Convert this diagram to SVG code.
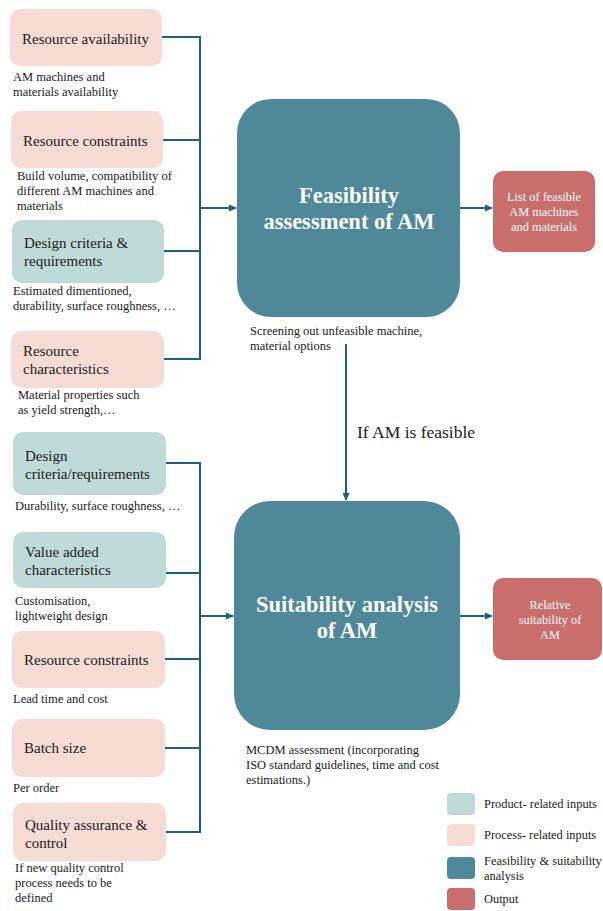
<svg xmlns="http://www.w3.org/2000/svg" width="603" height="911" viewBox="0 0 603 911" font-family="Liberation Serif, serif">
  <style>
    .product { fill: #BFDAD8; }
    .process { fill: #F7DCD6; }
    .analysis { fill: #4F8899; }
    .output { fill: #C96E6C; }
    .lbl { font-size: 15px; fill: #1a1a1a; }
    .cap { font-size: 12.5px; fill: #1a1a1a; }
    .big { font-size: 22.5px; font-weight: bold; fill: #ffffff; text-anchor: middle; }
    .out { font-size: 12.3px; fill: #ffffff; text-anchor: middle; }
    .leg { font-size: 12.4px; fill: #1a1a1a; }
    .wire { fill: none; stroke: #1D6180; stroke-width: 2; }
  </style>
  <defs>
    <marker id="arrow" markerWidth="8" markerHeight="8" refX="7" refY="4" orient="auto" markerUnits="userSpaceOnUse">
      <path d="M0,0.5 L8,4 L0,7.5 Z" fill="#1D6180"/>
    </marker>
  </defs>

  <!-- Feasibility inputs -->
  <g id="n-resource-availability">
    <rect class="process" x="10" y="9" width="152" height="57" rx="10"/>
    <text class="lbl" x="22" y="44">Resource availability</text>
    <text class="cap" x="13" y="81">AM machines and</text>
    <text class="cap" x="13" y="96">materials availability</text>
  </g>
  <g id="n-resource-constraints-1">
    <rect class="process" x="11" y="111" width="152" height="57" rx="10"/>
    <text class="lbl" x="23" y="146">Resource constraints</text>
    <text class="cap" x="17" y="180">Build volume, compatibility of</text>
    <text class="cap" x="17" y="195">different AM machines and</text>
    <text class="cap" x="17" y="210">materials</text>
  </g>
  <g id="n-design-criteria-1">
    <rect class="product" x="12" y="220" width="152" height="63" rx="10"/>
    <text class="lbl" x="24" y="248">Design criteria &amp;</text>
    <text class="lbl" x="24" y="266">requirements</text>
    <text class="cap" x="13" y="295">Estimated dimentioned,</text>
    <text class="cap" x="13" y="310">durability, surface roughness, …</text>
  </g>
  <g id="n-resource-characteristics">
    <rect class="process" x="11" y="331" width="153" height="57" rx="10"/>
    <text class="lbl" x="23" y="356">Resource</text>
    <text class="lbl" x="23" y="374">characteristics</text>
    <text class="cap" x="18" y="399">Material properties such</text>
    <text class="cap" x="18" y="414">as yield strength,…</text>
  </g>

  <!-- Feasibility stage -->
  <g id="n-feasibility">
    <rect class="analysis" x="237" y="99" width="223" height="218" rx="34"/>
    <text class="big" x="349" y="203">Feasibility</text>
    <text class="big" x="349" y="229">assessment of AM</text>
    <text class="cap" x="250" y="335">Screening out unfeasible machine,</text>
    <text class="cap" x="250" y="350">material options</text>
  </g>
  <g id="n-feasible-list">
    <rect class="output" x="493" y="171" width="102" height="81" rx="10"/>
    <text class="out" x="544" y="201">List of feasible</text>
    <text class="out" x="544" y="216">AM machines</text>
    <text class="out" x="544" y="231">and materials</text>
  </g>

  <!-- Suitability inputs -->
  <g id="n-design-criteria-2">
    <rect class="product" x="13" y="432" width="153" height="63" rx="10"/>
    <text class="lbl" x="25" y="461">Design</text>
    <text class="lbl" x="25" y="479">criteria/requirements</text>
    <text class="cap" x="15" y="510">Durability, surface roughness, …</text>
  </g>
  <g id="n-value-added">
    <rect class="product" x="13" y="532" width="153" height="56" rx="10"/>
    <text class="lbl" x="25" y="557">Value added</text>
    <text class="lbl" x="25" y="575">characteristics</text>
    <text class="cap" x="15" y="605">Customisation,</text>
    <text class="cap" x="15" y="620">lightweight design</text>
  </g>
  <g id="n-resource-constraints-2">
    <rect class="process" x="12" y="631" width="153" height="57" rx="10"/>
    <text class="lbl" x="24" y="665">Resource constraints</text>
    <text class="cap" x="13" y="703">Lead time and cost</text>
  </g>
  <g id="n-batch-size">
    <rect class="process" x="12" y="719" width="153" height="58" rx="10"/>
    <text class="lbl" x="24" y="753">Batch size</text>
    <text class="cap" x="13" y="792">Per order</text>
  </g>
  <g id="n-quality">
    <rect class="process" x="13" y="803" width="153" height="58" rx="10"/>
    <text class="lbl" x="25" y="830">Quality assurance &amp;</text>
    <text class="lbl" x="25" y="848">control</text>
    <text class="cap" x="15" y="872">If new quality control</text>
    <text class="cap" x="15" y="887">process needs to be</text>
    <text class="cap" x="15" y="902">defined</text>
  </g>

  <!-- Suitability stage -->
  <g id="n-suitability">
    <rect class="analysis" x="234" y="501" width="226" height="229" rx="36"/>
    <text class="big" x="347" y="612">Suitability analysis</text>
    <text class="big" x="347" y="638">of AM</text>
    <text class="cap" x="246" y="754">MCDM assessment (incorporating</text>
    <text class="cap" x="246" y="769">ISO standard guidelines, time and cost</text>
    <text class="cap" x="246" y="784">estimations.)</text>
  </g>
  <g id="n-relative-suitability">
    <rect class="output" x="493" y="578" width="109" height="82" rx="10"/>
    <text class="out" x="550" y="609">Relative</text>
    <text class="out" x="550" y="624">suitability of</text>
    <text class="out" x="550" y="639">AM</text>
  </g>

  <!-- Connectors -->
  <g id="connectors">
    <path class="wire" d="M162,37 H200 V359 H164 M163,140 H200 M164,251 H200"/>
    <path class="wire" d="M200,208 H236" marker-end="url(#arrow)"/>
    <path class="wire" d="M460,208 H492" marker-end="url(#arrow)"/>
    <path class="wire" d="M346,344 V500" marker-end="url(#arrow)"/>
    <path class="wire" d="M166,463 H200 V832 H166 M166,573 H200 M165,659 H200 M165,748 H200"/>
    <path class="wire" d="M200,616 H233" marker-end="url(#arrow)"/>
    <path class="wire" d="M460,616 H492" marker-end="url(#arrow)"/>
    <text x="357" y="438" font-size="17.5" fill="#1a1a1a">If AM is feasible</text>
  </g>

  <!-- Legend -->
  <g id="legend">
    <rect class="product" x="447" y="793" width="28" height="22" rx="4"/>
    <text class="leg" x="484" y="808">Product- related inputs</text>
    <rect class="process" x="447" y="824" width="28" height="22" rx="4"/>
    <text class="leg" x="484" y="839">Process- related inputs</text>
    <rect class="analysis" x="447" y="857" width="28" height="22" rx="4"/>
    <text class="leg" x="484" y="865">Feasibility &amp; suitability</text>
    <text class="leg" x="484" y="880">analysis</text>
    <rect class="output" x="447" y="888" width="28" height="22" rx="4"/>
    <text class="leg" x="484" y="903">Output</text>
  </g>
</svg>
